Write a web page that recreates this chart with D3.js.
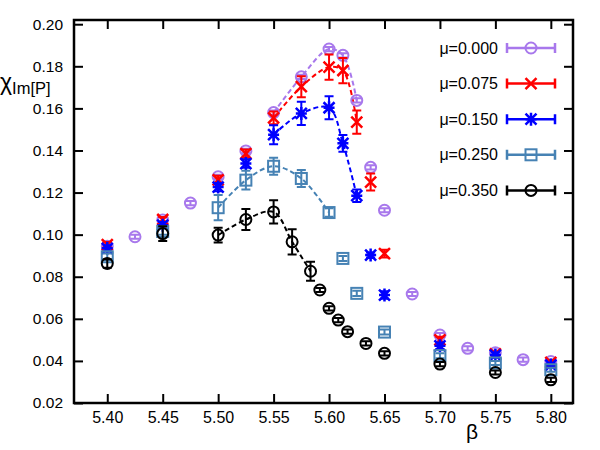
<!DOCTYPE html>
<html>
<head>
<meta charset="utf-8">
<script src="https://cdn.jsdelivr.net/npm/d3@7"></script>
<style>
  body { margin: 0; background: #fff; }
  text { font-family: "Liberation Sans", Arial, sans-serif; fill: #000; }
</style>
</head>
<body>
<svg id="chart" width="600" height="450"></svg>
<script>
// chi_Im[P] vs beta, one series per mu
const labels = ["μ=0.000", "μ=0.075", "μ=0.150", "μ=0.250", "μ=0.350"];
const colors = ["#a878ec", "#ff0000", "#0000ff", "#4682b4", "#000000"];
const markers = ["circle", "cross", "star", "square", "circle"];

const beta0 = [5.40, 5.425, 5.45, 5.475, 5.50, 5.525, 5.55, 5.575, 5.60, 5.6125, 5.625, 5.6375, 5.65, 5.675, 5.70, 5.725, 5.75, 5.775, 5.80];
const chi0  = [0.0945, 0.099, 0.107, 0.115, 0.1275, 0.1398, 0.158, 0.175, 0.1882, 0.1852, 0.1638, 0.132, 0.1116, 0.0718, 0.0523, 0.046, 0.0439, 0.0406, 0.0397];
const err0  = [0.001, 0.001, 0.001, 0.001, 0.001, 0.001, 0.001, 0.001, 0.001, 0.001, 0.001, 0.001, 0.001, 0.001, 0.001, 0.001, 0.001, 0.001, 0.001];

const beta1 = [5.40, 5.45, 5.50, 5.525, 5.55, 5.575, 5.60, 5.6125, 5.625, 5.6375, 5.65, 5.70, 5.75, 5.80];
const chi1  = [0.0953, 0.1072, 0.126, 0.1385, 0.1555, 0.1703, 0.1796, 0.178, 0.1535, 0.125, 0.091, 0.050, 0.0433, 0.0393];
const err1  = [0.0012, 0.0012, 0.002, 0.002, 0.003, 0.005, 0.006, 0.006, 0.0055, 0.004, 0.0018, 0.0015, 0.0012, 0.001];

const beta2 = [5.40, 5.45, 5.50, 5.525, 5.55, 5.575, 5.60, 5.6125, 5.625, 5.6375, 5.65, 5.70, 5.75, 5.80];
const chi2  = [0.0935, 0.1045, 0.1226, 0.1338, 0.1475, 0.1576, 0.1603, 0.1434, 0.1185, 0.0903, 0.0713, 0.0472, 0.0428, 0.038];
const err2  = [0.0015, 0.0015, 0.002, 0.002, 0.0045, 0.0055, 0.0055, 0.004, 0.003, 0.0012, 0.0018, 0.0015, 0.0012, 0.001];

const beta3 = [5.40, 5.45, 5.50, 5.525, 5.55, 5.575, 5.60, 5.6125, 5.625, 5.65, 5.70, 5.75, 5.80];
const chi3  = [0.0895, 0.1015, 0.1128, 0.1259, 0.1325, 0.1267, 0.1105, 0.0887, 0.0721, 0.0537, 0.0425, 0.039, 0.0358];
const err3  = [0.0015, 0.0015, 0.006, 0.0045, 0.004, 0.004, 0.002, 0.0012, 0.0012, 0.0012, 0.0012, 0.001, 0.001];

const beta4 = [5.40, 5.45, 5.50, 5.525, 5.55, 5.5667, 5.5833, 5.5917, 5.60, 5.6083, 5.6167, 5.6333, 5.65, 5.70, 5.75, 5.80];
const chi4  = [0.0863, 0.1005, 0.0998, 0.1072, 0.1108, 0.0966, 0.0826, 0.0737, 0.065, 0.0594, 0.0539, 0.0483, 0.0436, 0.0385, 0.0345, 0.031];
const err4  = [0.002, 0.0035, 0.0035, 0.005, 0.0055, 0.006, 0.0045, 0.001, 0.001, 0.001, 0.001, 0.001, 0.001, 0.001, 0.001, 0.001];

// beta range covered by the dashed fit of each series
const fitRanges = [[5.55, 5.625], [5.55, 5.625], [5.55, 5.625], [5.50, 5.60], [5.50, 5.5833]];

const xTicks = [5.40, 5.45, 5.50, 5.55, 5.60, 5.65, 5.70, 5.75, 5.80];
const yTicks = [0.02, 0.04, 0.06, 0.08, 0.10, 0.12, 0.14, 0.16, 0.18, 0.20];

const betas = [beta0, beta1, beta2, beta3, beta4];
const chis = [chi0, chi1, chi2, chi3, chi4];
const errs = [err0, err1, err2, err3, err4];

const series = labels.map((label, i) => ({
  label,
  color: colors[i],
  marker: markers[i],
  fit: fitRanges[i],
  points: betas[i].map((b, j) => ({ b, v: chis[i][j], e: errs[i][j] }))
}));

const plotLeft = 74, plotRight = 573, plotTop = 20, plotBottom = 403;

const x = d3.scaleLinear().domain([5.37, 5.82]).range([plotLeft, plotRight]);
const y = d3.scaleLinear().domain([0.02, 0.202]).range([plotBottom, plotTop]);

const svg = d3.select("#chart");

// Axes (ticks pointing inward, mirrored on top/right)
const fmt = d3.format(".2f");
svg.append("g")
  .attr("transform", `translate(0, ${plotBottom})`)
  .call(d3.axisBottom(x).tickValues(xTicks).tickFormat(fmt).tickSize(-9).tickPadding(9))
  .call(g => g.selectAll("text").style("font-size", "16px"));
svg.append("g")
  .attr("transform", `translate(0, ${plotTop})`)
  .call(d3.axisTop(x).tickValues(xTicks).tickFormat("").tickSize(-9));
svg.append("g")
  .attr("transform", `translate(${plotLeft}, 0)`)
  .call(d3.axisLeft(y).tickValues(yTicks).tickFormat(fmt).tickSize(-9).tickPadding(11))
  .call(g => g.selectAll("text").style("font-size", "15.5px"));
svg.append("g")
  .attr("transform", `translate(${plotRight}, 0)`)
  .call(d3.axisRight(y).tickValues(yTicks).tickFormat("").tickSize(-9));

svg.selectAll(".domain").remove();
svg.selectAll(".tick line").attr("stroke", "#000").attr("stroke-width", 2);
svg.selectAll(".tick text").attr("fill", "#000").style("font-family", "'Liberation Sans', Arial, sans-serif");

svg.append("rect")
  .attr("x", plotLeft).attr("y", plotTop)
  .attr("width", plotRight - plotLeft).attr("height", plotBottom - plotTop)
  .attr("fill", "none").attr("stroke", "#000").attr("stroke-width", 2.5);

// Axis titles
const ylab = svg.append("text").attr("x", 0).attr("y", 90);
ylab.append("tspan").text("χ").style("font-size", "23px");
ylab.append("tspan").text("Im[P]").attr("dy", 4).style("font-size", "16.5px");

svg.append("text")
  .attr("x", 472).attr("y", 439)
  .attr("text-anchor", "middle")
  .style("font-size", "21px")
  .text("β");

function drawMarker(g, type, color) {
  const s = 5.5;
  if (type === "circle") {
    g.append("circle").attr("r", s).attr("fill", "none").attr("stroke", color).attr("stroke-width", 2);
  } else if (type === "square") {
    g.append("rect").attr("x", -s).attr("y", -s).attr("width", 2 * s).attr("height", 2 * s)
      .attr("fill", "none").attr("stroke", color).attr("stroke-width", 2);
  } else if (type === "cross") {
    g.append("path").attr("d", `M${-s},${-s}L${s},${s}M${-s},${s}L${s},${-s}`)
      .attr("stroke", color).attr("stroke-width", 2.5);
  } else {
    g.append("path").attr("d", `M${-s},${-s}L${s},${s}M${-s},${s}L${s},${-s}M0,${-s - 1}V${s + 1}M${-s},0H${s}`)
      .attr("stroke", color).attr("stroke-width", 2.5);
  }
}

// Dashed fit curves
const fitLine = d3.line()
  .x(d => x(d.b))
  .y(d => y(d.v))
  .curve(d3.curveCatmullRom);

series.forEach(s => {
  const pts = s.points.filter(p => p.b >= s.fit[0] - 1e-6 && p.b <= s.fit[1] + 1e-6);
  svg.append("path")
    .datum(pts)
    .attr("d", fitLine)
    .attr("fill", "none")
    .attr("stroke", s.color)
    .attr("stroke-width", 2)
    .attr("stroke-dasharray", "5,3");
});

// Points with error bars
const cap = 4.5;
series.forEach(s => {
  const g = svg.append("g");
  s.points.forEach(p => {
    const cx = x(p.b), y1 = y(p.v + p.e), y2 = y(p.v - p.e);
    g.append("path")
      .attr("d", `M${cx - cap},${y1}H${cx + cap}M${cx},${y1}V${y2}M${cx - cap},${y2}H${cx + cap}`)
      .attr("fill", "none")
      .attr("stroke", s.color)
      .attr("stroke-width", 2);
    const m = g.append("g").attr("transform", `translate(${cx}, ${y(p.v)})`);
    drawMarker(m, s.marker, s.color);
  });
});

// Legend
const legend = svg.append("g");
series.forEach((s, i) => {
  const ly = 48 + i * 35.6;
  legend.append("text")
    .attr("x", 498).attr("y", ly)
    .attr("dy", "0.35em")
    .attr("text-anchor", "end")
    .style("font-size", "16px")
    .text(s.label);
  legend.append("path")
    .attr("d", `M507,${ly - 5}V${ly + 5}M507,${ly}H555M555,${ly - 5}V${ly + 5}`)
    .attr("fill", "none")
    .attr("stroke", s.color)
    .attr("stroke-width", 2.5);
  const m = legend.append("g").attr("transform", `translate(531, ${ly})`);
  drawMarker(m, s.marker, s.color);
});
</script>
</body>
</html>
